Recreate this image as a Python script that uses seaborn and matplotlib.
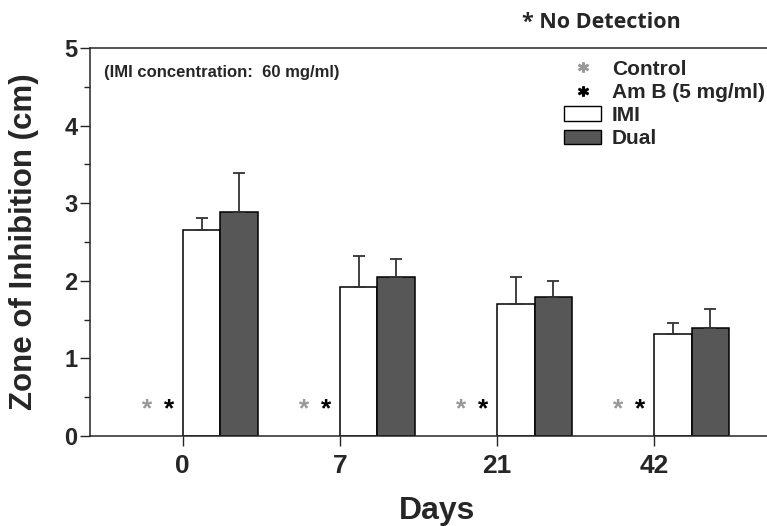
import numpy as np
import pandas as pd
import matplotlib
matplotlib.use("Agg")
import matplotlib.pyplot as plt
import seaborn as sns
from matplotlib.patches import Patch
from matplotlib.lines import Line2D

days = ["0", "7", "21", "42"]
groups = ["Control", "Am B (5 mg/ml)", "IMI", "Dual"]
imi = [2.65, 1.92, 1.70, 1.31]
imi_err = [0.16, 0.40, 0.35, 0.15]
dual = [2.89, 2.05, 1.79, 1.39]
dual_err = [0.50, 0.23, 0.21, 0.25]
# control and Am B: no detection, shown as asterisks
star_y = 0.35

sns.set_style("ticks")
plt.rcParams["font.family"] = ["Liberation Sans", "DejaVu Sans"]
plt.rcParams["font.weight"] = "bold"

rows = []
for i, d in enumerate(days):
    rows.append((d, "Control", np.nan))
    rows.append((d, "Am B (5 mg/ml)", np.nan))
    rows.append((d, "IMI", imi[i]))
    rows.append((d, "Dual", dual[i]))
df = pd.DataFrame(rows, columns=["Days", "group", "zone"])

fig = plt.figure(figsize=(7.67, 5.26), dpi=100)
ax = fig.add_axes([90 / 767, 1 - 436 / 526, 677 / 767, 388 / 526])

pal = {"Control": "#999999", "Am B (5 mg/ml)": "#111111", "IMI": "white", "Dual": "#575757"}
sns.barplot(data=df, x="Days", y="zone", hue="group", hue_order=groups, order=days,
            palette=pal, width=0.96, edgecolor="black", linewidth=1.1,
            errorbar=None, legend=False, ax=ax)

# upper error bars
w = 0.24
xs = np.arange(len(days))
ax.errorbar(xs + 0.5 * w, imi, yerr=[np.zeros(4), imi_err], fmt="none",
            ecolor="#333333", elinewidth=1.3, capsize=4, capthick=1.3, zorder=1)
ax.errorbar(xs + 1.5 * w, dual, yerr=[np.zeros(4), dual_err], fmt="none",
            ecolor="#333333", elinewidth=1.3, capsize=4, capthick=1.3, zorder=1)

for i in range(len(days)):
    ax.text(i - 0.225, star_y, "*", color="#999999", fontsize=19, ha="center", va="center")
    ax.text(i - 0.085, star_y, "*", color="black", fontsize=19, ha="center", va="center")

ax.set_ylim(0, 5)
ax.set_xlim(-0.59, 3.72)
ax.set_yticks([0, 1, 2, 3, 4, 5])
ax.set_yticks(np.arange(0.5, 5, 1), minor=True)
ax.tick_params(axis="y", which="major", length=7, width=1, labelsize=17, pad=2)
ax.tick_params(axis="y", which="minor", length=4, width=1)
ax.tick_params(axis="x", length=7, width=1, labelsize=19, pad=6)
for s in ["left", "bottom", "top"]:
    ax.spines[s].set_visible(True)
    ax.spines[s].set_linewidth(1.1)
ax.spines["right"].set_visible(False)

ax.set_ylabel("Zone of Inhibition (cm)", fontsize=22.5, fontweight="bold")
ax.yaxis.set_label_coords(-0.075, 0.5)
ax.set_xlabel("Days", fontsize=23, fontweight="bold")
ax.xaxis.set_label_coords(0.513, -0.155)

ax.text(0.02, 0.938, "(IMI concentration:  60 mg/ml)", transform=ax.transAxes,
        fontsize=12, fontweight="bold", va="center", ha="left")
fig.text(601 / 767, 1 - 22 / 526, "* No Detection", fontsize=15.5, fontweight="bold",
         family=["Open Sans", "DejaVu Sans"], ha="center", va="center")

handles = [
    Line2D([], [], linestyle="none", marker="$*$", color="#999999", markersize=7),
    Line2D([], [], linestyle="none", marker="$*$", color="black", markersize=7),
    Patch(facecolor="white", edgecolor="black", linewidth=1),
    Patch(facecolor="#575757", edgecolor="black", linewidth=1),
]
ax.legend(handles, groups, loc="upper left", bbox_to_anchor=(0.7, 0.97),
          frameon=False, labelspacing=0.2, handlelength=1.8,
          handletextpad=0.5, borderpad=0, borderaxespad=0,
          prop={"weight": "bold", "size": 15})

fig.savefig("out.png", dpi=100)
